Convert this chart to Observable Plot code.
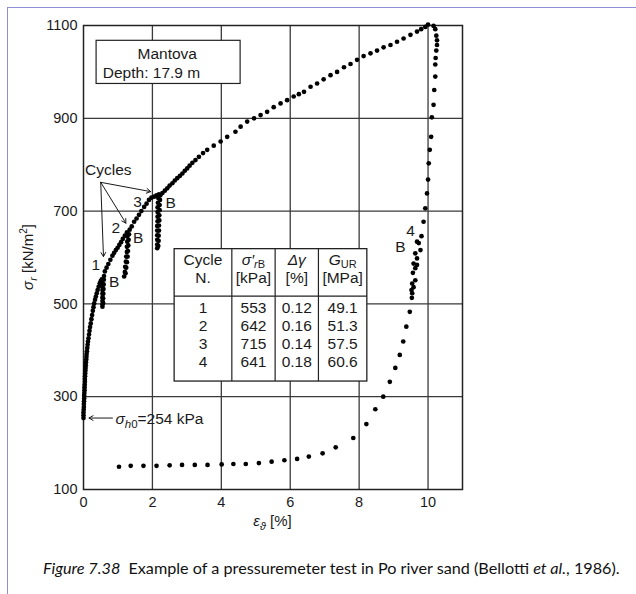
<!DOCTYPE html>
<html>
<head>
<meta charset="utf-8">
<script src="https://cdn.jsdelivr.net/npm/d3@7"></script>
<script src="https://cdn.jsdelivr.net/npm/@observablehq/plot@0.6"></script>
<style>
  html, body { margin: 0; padding: 0; background: #fff; }
  #wrap { position: relative; width: 636px; height: 594px; overflow: hidden; background: #fff; }
  #wrap svg { position: absolute; left: 0; top: 0; display: block; }
  #border { position: absolute; left: 7px; top: 7px; width: 700px; height: 700px;
            border-left: 1.5px solid #8f8fd8; border-top: 1.5px solid #8f8fd8; }
  #caption { position: absolute; left: 43px; top: 558px; font-family: Lato, "Open Sans", sans-serif;
             font-size: 16.2px; color: #111; white-space: nowrap; }
</style>
</head>
<body>
<div id="wrap"><div id="border"></div><div id="caption"></div></div>
<script>
// ---------- data (x = εϑ [%], y = σr [kN/m²]) ----------
const initialLoading = [
  [0,254],[0,260],[0,266],[0.005,272],[0.01,278],[0.01,284],[0.015,290],[0.02,296],[0.02,302],
  [0.025,308],[0.03,314],[0.03,320],[0.035,326],[0.04,332],[0.04,338],[0.045,344],[0.05,350],
  [0.055,356],[0.06,362],[0.065,368],[0.07,374],[0.08,380],[0.085,386],[0.09,392],[0.1,398],
  [0.11,405],[0.12,412],[0.13,419],[0.145,426],[0.16,434],[0.175,442],[0.19,450],[0.21,458],
  [0.23,467],[0.25,476],[0.27,485],[0.29,493],[0.31,501],[0.335,509],[0.36,516],[0.385,523],
  [0.41,530],[0.44,537],[0.47,544],[0.5,549],[0.53,553]
];
const cycle1Loop = [
  [0.54,546],[0.545,538],[0.55,530],[0.55,522],[0.55,514],[0.55,506],[0.55,499],[0.55,494],
  [0.57,502],[0.57,512],[0.575,522],[0.58,532],[0.585,542],[0.59,552],[0.595,560]
];
const loading2 = [
  [0.62,570],[0.67,578],[0.72,586],[0.78,595],[0.84,604],[0.89,610],[0.94,616],[0.99,621],
  [1.04,627],[1.09,633],[1.14,640],[1.2,647],[1.26,654]
];
const cycle2Loop = [
  [1.27,645],[1.27,634],[1.26,623],[1.26,612],[1.24,602],[1.23,591],[1.21,580],[1.2,569],[1.18,559],
  [1.22,566],[1.24,578],[1.26,590],[1.28,602],[1.29,614],[1.3,626],[1.31,638],[1.32,650],[1.34,660]
];
const loading3 = [
  [1.4,667],[1.47,677],[1.54,684],[1.61,692],[1.68,700],[1.76,709],[1.83,716],[1.9,724],
  [1.97,729],[2.05,731],[2.12,734],[2.19,736]
];
const cycle3Loop = [
  [2.17,728],[2.16,718],[2.15,708],[2.15,698],[2.15,688],[2.15,678],[2.14,668],[2.14,658],
  [2.14,648],[2.14,638],[2.14,628],[2.14,620],
  [2.17,625],[2.18,636],[2.18,647],[2.19,658],[2.19,669],[2.2,680],[2.2,691],[2.21,702],
  [2.21,713],[2.22,724],[2.23,734]
];
const loading4 = [
  [2.29,739],[2.36,744],[2.43,749],[2.5,755],[2.58,760],[2.65,766],[2.72,771],[2.8,776],
  [2.87,781],[2.94,787],[3.01,792],[3.08,798],[3.16,804],[3.25,810],[3.35,817],[3.47,825],
  [3.59,832],[3.78,841],[3.98,850],[4.17,860],[4.41,871],[4.56,882],[4.75,893],[4.95,900],
  [5.14,907],[5.33,914],[5.52,924],[5.72,932],[5.91,939],[6.1,947],[6.25,952],[6.4,957],
  [6.59,968],[6.78,975],[6.97,984],[7.17,993],[7.36,1000],[7.56,1010],[7.75,1017],[7.94,1026],
  [8.13,1034],[8.33,1040],[8.52,1046],[8.71,1053],[8.91,1058],[9.1,1065],[9.29,1072],
  [9.49,1080],[9.68,1087],[9.8,1092],[9.92,1097],[10.0,1102]
];
const finalUnloading = [
  [10.16,1099],[10.21,1092],[10.24,1078],[10.26,1068],[10.26,1058],[10.24,1046],[10.22,1030],
  [10.21,1016],[10.21,990],[10.18,961],[10.16,929],[10.11,902],[10.09,860],[10.05,832],
  [10.02,803],[10.0,768],[9.97,738],[9.92,706],[9.87,677],[9.81,646],[9.73,631],
  [9.68,634],[9.78,616],[9.63,609],[9.68,598],[9.58,587],[9.68,584],[9.63,577],[9.56,567],
  [9.63,551],[9.54,544],[9.58,536],[9.52,530],[9.54,523],[9.53,513],
  [9.47,483],[9.37,451],[9.28,419],[9.18,390],[9.05,362],[8.89,332],[8.7,300],[8.47,273],
  [8.21,241],[7.83,211],[7.32,191],[6.94,178],[6.54,171],[6.2,166],[5.83,163],[5.46,160],
  [5.09,157],[4.71,155],[4.35,155],[4.01,154],[3.6,153],[3.23,153],[2.86,153],[2.5,152],
  [2.12,151],[1.74,151],[1.37,151],[1.03,149]
];

// axes
const xTicks = [0, 2, 4, 6, 8, 10];
const yTicks = [100, 300, 500, 700, 900, 1100];
const xGrid = [2, 4, 6, 8, 10];
const yGrid = [300, 500, 700, 900];

// annotations (data coordinates)
const infoBox = [{x1: 0.38, x2: 4.56, y1: 974, y2: 1067}];
const infoTitle = [{x: 2.43, y: 1039, text: "Mantova"}];
const infoDepth = [{x: 0.56, y: 998, text: "Depth: 17.9 m"}];
const cycleArrows = [
  {x1: 0.50, y1: 762, x2: 1.95, y2: 742},
  {x1: 0.50, y1: 762, x2: 1.23, y2: 674},
  {x1: 0.50, y1: 762, x2: 0.58, y2: 602}
];
const cyclesTitle = [{x: 0.72, y: 789, text: "Cycles"}];
const cycleLabels = [
  {x: 0.36, y: 584, text: "1"}, {x: 0.89, y: 548, text: "B"},
  {x: 0.94, y: 663, text: "2"}, {x: 1.59, y: 641, text: "B"},
  {x: 1.57, y: 720, text: "3"}, {x: 2.53, y: 717, text: "B"},
  {x: 9.49, y: 656, text: "4"}, {x: 9.20, y: 623, text: "B"}
];
const sigmaH0 = 254;
const sigmaH0Arrow = [{x1: 0.84, x2: 0.16, y: sigmaH0}];
const sigmaH0Label = {x: 0.94, y: sigmaH0, value: "254 kPa"};

// table
const tableAnchor = {x: 2.645, y: 618};
const cycleN = ["1", "2", "3", "4"];
const sigmaRB = ["553", "642", "715", "641"];
const deltaGamma = ["0.12", "0.16", "0.14", "0.18"];
const gUR = ["49.1", "51.3", "57.5", "60.6"];

const caption = {fig: "Figure 7.38", text: "Example of a pressuremeter test in Po river sand (Bellotti ", etal: "et al.", tail: ", 1986)."};

// ---------- build ----------
const toPts = a => a.map(([x, y]) => ({x, y}));
const points = [initialLoading, cycle1Loop, loading2, cycle2Loop, loading3, cycle3Loop, loading4, finalUnloading]
  .flatMap(toPts);

const FONT = "'Liberation Sans', Arial, Helvetica, sans-serif";
const ink = "#1a1a1a";

const svg = Plot.plot({
  width: 636,
  height: 540,
  marginLeft: 83,
  marginRight: 174,
  marginTop: 25,
  marginBottom: 51,
  style: {fontFamily: FONT, fontSize: "14.5px", color: ink, background: "transparent", overflow: "visible"},
  x: {domain: [0, 11], label: null},
  y: {domain: [100, 1100], label: null},
  marks: [
    Plot.gridX(xGrid, {stroke: "#3a3a3a", strokeOpacity: 1, strokeWidth: 1.3}),
    Plot.gridY(yGrid, {stroke: "#3a3a3a", strokeOpacity: 1, strokeWidth: 1.3}),
    Plot.frame({stroke: "#222", strokeWidth: 1.5}),
    Plot.axisX(xTicks, {tickSize: 0, tickPadding: 7, fontSize: 14.5, label: null, tickFormat: d3.format("d")}),
    Plot.axisY(yTicks, {tickSize: 0, tickPadding: 6, fontSize: 14.5, label: null, tickFormat: d3.format("d")}),
    Plot.rect(infoBox, {x1: "x1", x2: "x2", y1: "y1", y2: "y2", fill: "white", stroke: "#222", strokeWidth: 1.2}),
    Plot.text(infoTitle, {x: "x", y: "y", text: "text", textAnchor: "middle", fontSize: 15.5, fill: ink}),
    Plot.text(infoDepth, {x: "x", y: "y", text: "text", textAnchor: "start", fontSize: 15.5, fill: ink}),
    Plot.dot(points, {x: "x", y: "y", r: 2.35, fill: "#000", stroke: "none"}),
    Plot.arrow(cycleArrows, {x1: "x1", y1: "y1", x2: "x2", y2: "y2", stroke: ink, strokeWidth: 1, headLength: 7}),
    Plot.arrow(sigmaH0Arrow, {x1: "x1", y1: "y", x2: "x2", y2: "y", stroke: ink, strokeWidth: 1, headLength: 7}),
    Plot.text(cyclesTitle, {x: "x", y: "y", text: "text", fontSize: 15.5, fill: ink}),
    Plot.text(cycleLabels, {x: "x", y: "y", text: "text", fontSize: 15.5, fill: ink})
  ]
});

document.getElementById("wrap").appendChild(svg);

const xs = svg.scale("x"), ys = svg.scale("y");
const root = d3.select(svg).append("g").attr("font-family", FONT).attr("fill", ink).attr("text-anchor", "start");

// σh0 label
{
  const t = root.append("text")
    .attr("x", xs.apply(sigmaH0Label.x)).attr("y", ys.apply(sigmaH0Label.y) + 6)
    .attr("text-anchor", "start").attr("fill", ink).attr("font-size", 15.5);
  t.append("tspan").attr("font-style", "italic").attr("fill", ink).text("σ");
  t.append("tspan").attr("font-style", "italic").attr("fill", ink).attr("font-size", 11.5).attr("dy", 4).text("h");
  t.append("tspan").attr("fill", ink).attr("font-size", 11.5).text("0");
  t.append("tspan").attr("fill", ink).attr("dy", -4).text("=" + sigmaH0Label.value);
}

// y-axis label
{
  const cy = (ys.apply(100) + ys.apply(1100)) / 2;
  const t = root.append("text")
    .attr("transform", `translate(33,${cy}) rotate(-90)`)
    .attr("text-anchor", "middle").attr("fill", ink).attr("font-size", 15);
  t.append("tspan").attr("font-style", "italic").text("σ");
  t.append("tspan").attr("font-style", "italic").attr("font-size", 11).attr("dy", 4).text("r");
  t.append("tspan").attr("dy", -4).text(" [kN/m");
  t.append("tspan").attr("font-size", 10).attr("dy", -6).text("2");
  t.append("tspan").attr("dy", 6).text("]");
}

// x-axis label
{
  const cx = (xs.apply(0) + xs.apply(11)) / 2;
  const t = root.append("text")
    .attr("x", cx).attr("y", 526).attr("text-anchor", "middle").attr("fill", ink).attr("font-size", 15);
  t.append("tspan").attr("font-style", "italic").text("ε");
  t.append("tspan").attr("font-style", "italic").attr("font-size", 11).attr("dy", 4).text("ϑ");
  t.append("tspan").attr("dy", -4).text(" [%]");
}

// table
{
  const X0 = xs.apply(tableAnchor.x), Y0 = ys.apply(tableAnchor.y);
  const cols = [0, 57.7, 101, 144.3, 192.7];
  const H = 132.4, headH = 47.4;
  const g = root.append("g").attr("transform", `translate(${X0},${Y0})`);
  g.append("rect").attr("x", 0).attr("y", 0).attr("width", cols[4]).attr("height", H)
    .attr("fill", "white").attr("stroke", "#222").attr("stroke-width", 1.3);
  cols.slice(1, 4).forEach(c => g.append("line").attr("x1", c).attr("x2", c).attr("y1", 0).attr("y2", H)
    .attr("stroke", "#222").attr("stroke-width", 1.2));
  g.append("line").attr("x1", 0).attr("x2", cols[4]).attr("y1", headH).attr("y2", headH)
    .attr("stroke", "#222").attr("stroke-width", 1.2);
  const cx = i => (cols[i] + cols[i + 1]) / 2;
  const fs = 15.5;
  const h1 = 16, h2 = 34.4;
  const txt = (i, y) => g.append("text").attr("x", cx(i)).attr("y", y).attr("text-anchor", "middle")
    .attr("fill", ink).attr("font-size", fs);
  txt(0, h1).text("Cycle");
  txt(0, h2).text("N.");
  { const t = txt(1, h1);
    t.append("tspan").attr("font-style", "italic").text("σ′");
    t.append("tspan").attr("font-style", "italic").attr("font-size", 11).attr("dy", 3).text("r");
    t.append("tspan").attr("font-size", 11).text("B"); }
  txt(1, h2).text("[kPa]");
  { const t = txt(2, h1); t.append("tspan").attr("font-style", "italic").text("Δγ"); }
  txt(2, h2).text("[%]");
  { const t = txt(3, h1);
    t.append("tspan").attr("font-style", "italic").text("G");
    t.append("tspan").attr("font-size", 11).attr("dy", 3).text("UR"); }
  txt(3, h2).text("[MPa]");
  const rowY = [64.8, 82.8, 100.8, 118.8];
  [cycleN, sigmaRB, deltaGamma, gUR].forEach((col, i) => {
    col.forEach((v, r) => txt(i, rowY[r]).text(v));
  });
}

// caption
{
  const c = document.getElementById("caption");
  const i1 = document.createElement("i"); i1.textContent = caption.fig;
  const s1 = document.createTextNode("\u2002" + caption.text);
  const i2 = document.createElement("i"); i2.textContent = caption.etal;
  const s2 = document.createTextNode(caption.tail);
  c.append(i1, s1, i2, s2);
}
</script>
</body>
</html>
